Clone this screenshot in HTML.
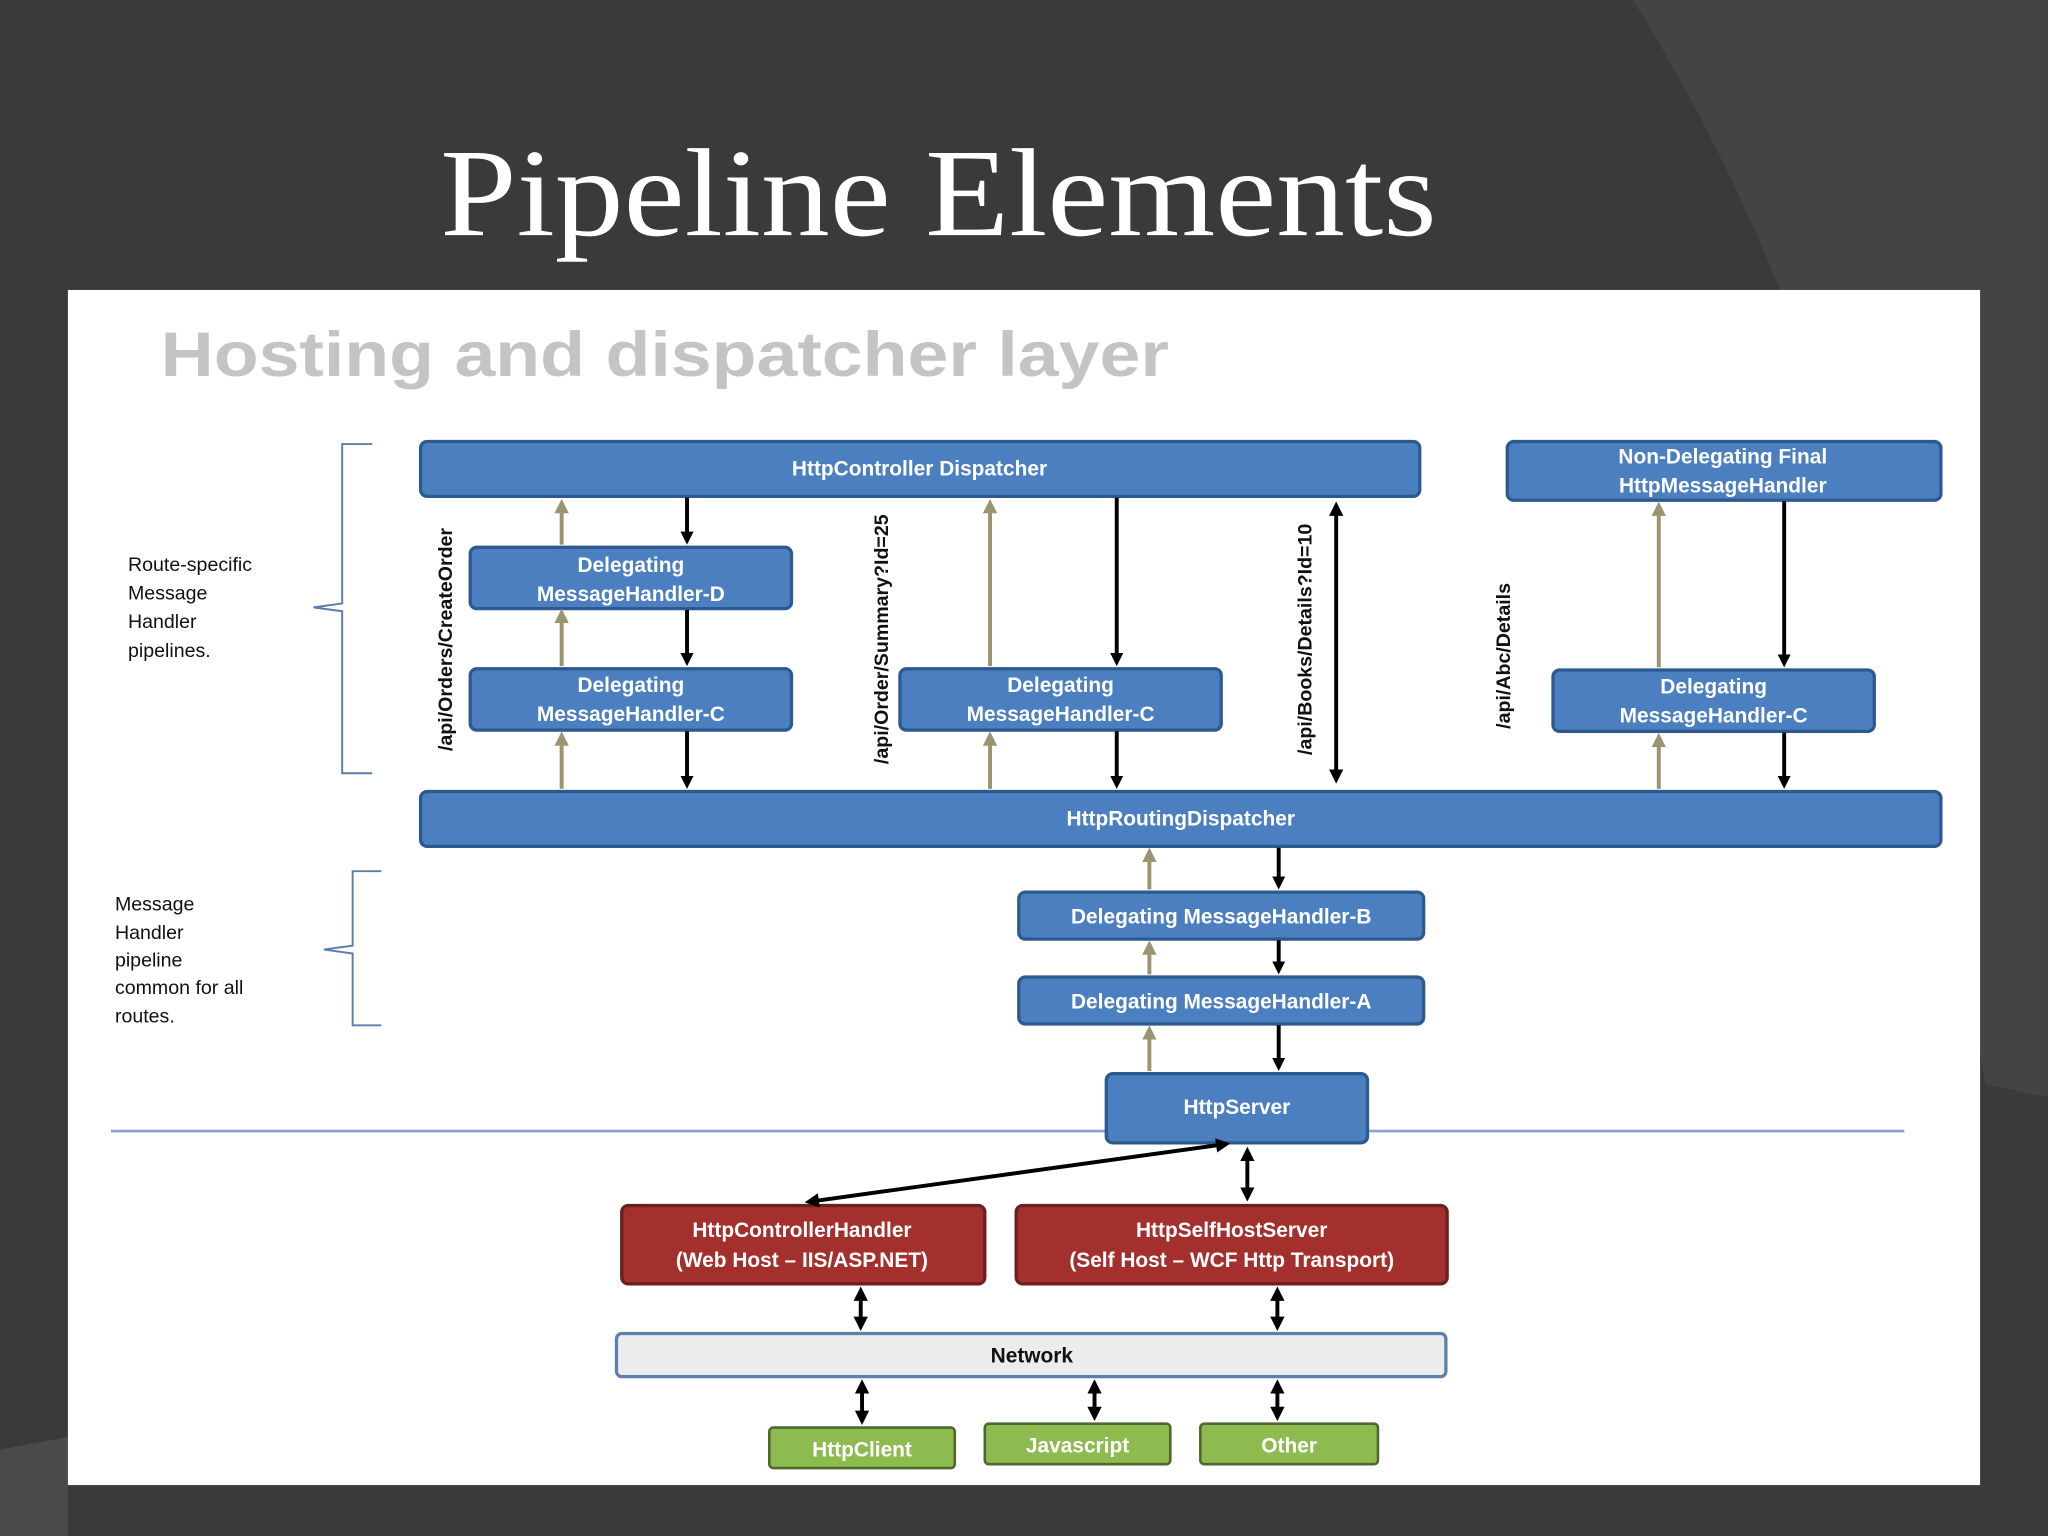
<!DOCTYPE html>
<html><head><meta charset="utf-8"><style>
html,body{margin:0;padding:0;background:#3b3b3b;}
svg{display:block}
</style></head><body>
<svg width="2048" height="1536" viewBox="0 0 1568 1176" xmlns="http://www.w3.org/2000/svg" font-family="Liberation Sans, sans-serif">
<defs>
<marker id="ab" markerWidth="10" markerHeight="10" refX="7" refY="5" orient="auto" markerUnits="userSpaceOnUse"><path d="M0,0 L10,5 L0,10 Z" fill="#000"/></marker>
<marker id="at" markerWidth="11" markerHeight="11" refX="7" refY="5.5" orient="auto" markerUnits="userSpaceOnUse"><path d="M0,0 L11,5.5 L0,11 Z" fill="#9a9470"/></marker>
<marker id="abs" markerWidth="11" markerHeight="11" refX="7" refY="5.5" orient="auto-start-reverse" markerUnits="userSpaceOnUse"><path d="M0,0 L11,5.5 L0,11 Z" fill="#000"/></marker>
</defs>
<rect width="1568" height="1176" fill="#3a3a3a"/>
<path d="M1250,0 L1568,0 L1568,840 L1520,830 Q1440,300 1250,0Z" fill="#444"/>
<path d="M0,1110 L52,1100 L52,1176 L0,1176Z" fill="#4a4a4a"/>
<text x="337" y="180" font-family="Liberation Serif, serif" font-size="96" fill="#fff" textLength="763" lengthAdjust="spacingAndGlyphs">Pipeline Elements</text>
<rect x="52" y="222" width="1464" height="915" fill="#fff"/>
<text x="123" y="288" font-size="48" font-weight="bold" fill="#c4c4c4" textLength="772" lengthAdjust="spacingAndGlyphs">Hosting and dispatcher layer</text>
<g font-size="15" fill="#111">
<text x="98" y="437">Route-specific</text><text x="98" y="459">Message</text><text x="98" y="481">Handler</text><text x="98" y="503">pipelines.</text>
<text x="88" y="697">Message</text><text x="88" y="719">Handler</text><text x="88" y="740">pipeline</text><text x="88" y="761">common for all</text><text x="88" y="783">routes.</text>
</g>
<g fill="none" stroke="#5a7fae" stroke-width="1.5">
<path d="M285,340 L262,340 L262,462 L240,465 L262,468 L262,592 L285,592"/>
<path d="M292,667 L270,667 L270,724 L248,727 L270,730 L270,785 L292,785"/>
</g>
<line x1="85" y1="866" x2="1458" y2="866" stroke="#8aa3c8" stroke-width="2"/>
<g stroke="#2c5a8f" stroke-width="2.5" fill="#4b7fbf">
<rect x="322" y="338" width="765" height="42" rx="5"/>
<rect x="1154" y="338" width="332" height="45" rx="5"/>
<rect x="360" y="419" width="246" height="47" rx="5"/>
<rect x="360" y="512" width="246" height="47" rx="5"/>
<rect x="689" y="512" width="246" height="47" rx="5"/>
<rect x="1189" y="513" width="246" height="47" rx="5"/>
<rect x="322" y="606" width="1164" height="42" rx="5"/>
<rect x="780" y="683" width="310" height="36" rx="5"/>
<rect x="780" y="748" width="310" height="36" rx="5"/>
<rect x="847" y="822" width="200" height="53" rx="5"/>
</g>
<g stroke="#6b2020" stroke-width="2.5" fill="#a3302c">
<rect x="476" y="923" width="278" height="60" rx="5"/>
<rect x="778" y="923" width="330" height="60" rx="5"/>
</g>
<rect x="472" y="1021" width="635" height="33" rx="4" fill="#ececec" stroke="#5d7fad" stroke-width="2.5"/>
<g stroke="#4d6a2a" stroke-width="2" fill="#8dbb4f">
<rect x="589" y="1093" width="142" height="31" rx="3"/>
<rect x="754" y="1090" width="142" height="31" rx="3"/>
<rect x="919" y="1090" width="136" height="31" rx="3"/>
</g>
<g font-size="16" font-weight="bold" fill="#fff" text-anchor="middle">
<text x="704" y="364">HttpController Dispatcher</text>
<text x="1319" y="355">Non-Delegating Final</text><text x="1319" y="377">HttpMessageHandler</text>
<text x="483" y="438">Delegating</text><text x="483" y="460">MessageHandler-D</text>
<text x="483" y="530">Delegating</text><text x="483" y="552">MessageHandler-C</text>
<text x="812" y="530">Delegating</text><text x="812" y="552">MessageHandler-C</text>
<text x="1312" y="531">Delegating</text><text x="1312" y="553">MessageHandler-C</text>
<text x="904" y="632">HttpRoutingDispatcher</text>
<text x="935" y="707">Delegating MessageHandler-B</text>
<text x="935" y="772">Delegating MessageHandler-A</text>
<text x="947" y="853">HttpServer</text>
<text x="614" y="947">HttpControllerHandler</text><text x="614" y="970">(Web Host – IIS/ASP.NET)</text>
<text x="943" y="947">HttpSelfHostServer</text><text x="943" y="970">(Self Host – WCF Http Transport)</text>
<text x="660" y="1115">HttpClient</text>
<text x="825" y="1112">Javascript</text>
<text x="987" y="1112">Other</text>
</g>
<text x="790" y="1043" font-size="16" font-weight="bold" fill="#111" text-anchor="middle">Network</text>
<g font-size="15" font-weight="bold" fill="#111">
<text transform="translate(346,575) rotate(-90)">/api/Orders/CreateOrder</text>
<text transform="translate(680,585) rotate(-90)">/api/Order/Summary?Id=25</text>
<text transform="translate(1004,578) rotate(-90)">/api/Books/Details?Id=10</text>
<text transform="translate(1156,558) rotate(-90)">/api/Abc/Details</text>
</g>
<g stroke="#9a9470" stroke-width="3" marker-end="url(#at)">
<line x1="430" y1="417" x2="430" y2="386"/><line x1="430" y1="510" x2="430" y2="470"/><line x1="430" y1="604" x2="430" y2="564"/>
<line x1="758" y1="510" x2="758" y2="386"/><line x1="758" y1="604" x2="758" y2="564"/>
<line x1="1270" y1="511" x2="1270" y2="388"/><line x1="1270" y1="604" x2="1270" y2="565"/>
<line x1="880" y1="681" x2="880" y2="653"/><line x1="880" y1="746" x2="880" y2="724"/><line x1="880" y1="820" x2="880" y2="789"/>
</g>
<g stroke="#000" stroke-width="3" marker-end="url(#ab)">
<line x1="526" y1="381" x2="526" y2="414"/><line x1="526" y1="467" x2="526" y2="507"/><line x1="526" y1="560" x2="526" y2="601"/>
<line x1="855" y1="381" x2="855" y2="507"/><line x1="855" y1="560" x2="855" y2="601"/>
<line x1="1366" y1="384" x2="1366" y2="508"/><line x1="1366" y1="561" x2="1366" y2="601"/>
<line x1="979" y1="649" x2="979" y2="678"/><line x1="979" y1="720" x2="979" y2="743"/><line x1="979" y1="785" x2="979" y2="817"/>
</g>
<g stroke="#000" stroke-width="3" marker-end="url(#abs)" marker-start="url(#abs)">
<line x1="1023" y1="388" x2="1023" y2="596"/>
<line x1="620" y1="920" x2="938" y2="876"/>
<line x1="955" y1="882" x2="955" y2="916"/>
<line x1="659" y1="989" x2="659" y2="1015"/>
<line x1="978" y1="989" x2="978" y2="1015"/>
<line x1="660" y1="1060" x2="660" y2="1087"/>
<line x1="838" y1="1060" x2="838" y2="1084"/>
<line x1="978" y1="1060" x2="978" y2="1084"/>
</g>
</svg>
</body></html>
